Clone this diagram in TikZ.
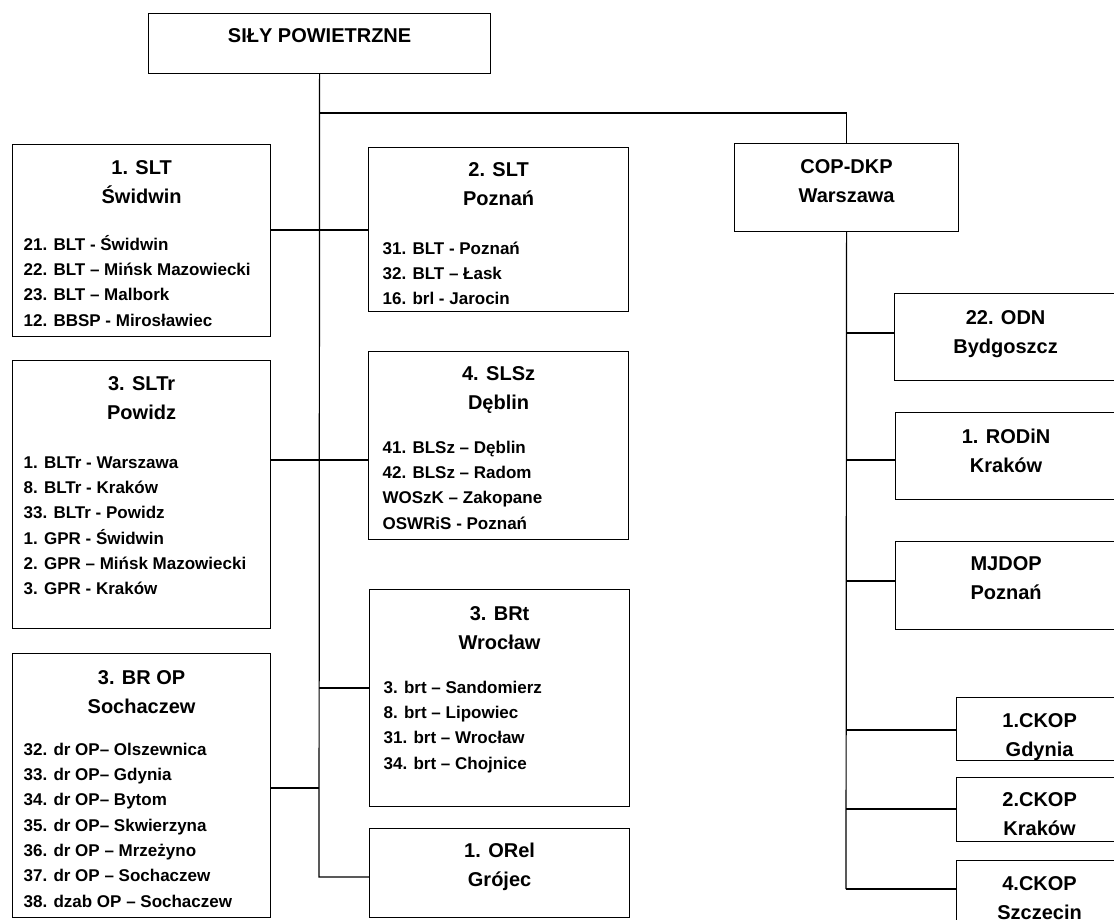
\documentclass[tikz,border=0pt]{standalone}
\usepackage{fontspec}
\setmainfont{Liberation Sans}
\usetikzlibrary{positioning}
\begin{document}
\begin{tikzpicture}[x=1pt, y=-1pt, line width=1.2pt,
    box/.style={draw, anchor=north west, inner sep=0pt},
    ttl/.style={inner sep=0pt, align=center, font=\fontsize{20}{29}\selectfont\bfseries},
    lst/.style={anchor=north west, inner sep=0pt, align=left, font=\fontsize{17}{25.3}\selectfont\bfseries}]
\path[use as bounding box] (0,0) rectangle (1114,920);
\clip (0,0) rectangle (1114,920);

\node[box, minimum width=342, minimum height=60] (sp) at (148,13) {};
\node[ttl, below=9pt of sp.north] (spt) {\strut SIŁY POWIETRZNE};

\node[box, minimum width=258, minimum height=192] (slt1) at (12,144) {};
\node[ttl, below=10pt of slt1.north] (slt1t) {\strut 1. SLT\\Świdwin};
\node[lst] (slt1l) at (23,232) {\strut 21. BLT - Świdwin\\22. BLT – Mińsk Mazowiecki\\23. BLT – Malbork\\12. BBSP - Mirosławiec};

\node[box, minimum width=258, minimum height=268] (sltr3) at (12,360) {};
\node[ttl, below=10pt of sltr3.north] (sltr3t) {\strut 3. SLTr\\Powidz};
\node[lst] (sltr3l) at (23,450) {\strut 1. BLTr - Warszawa\\8. BLTr - Kraków\\33. BLTr - Powidz\\1. GPR - Świdwin\\2. GPR – Mińsk Mazowiecki\\3. GPR - Kraków};

\node[box, minimum width=258, minimum height=264] (brop3) at (12,653) {};
\node[ttl, below=11pt of brop3.north] (brop3t) {\strut 3. BR OP\\Sochaczew};
\node[lst] (brop3l) at (23,737) {\strut 32. dr OP– Olszewnica\\33. dr OP– Gdynia\\34. dr OP– Bytom\\35. dr OP– Skwierzyna\\36. dr OP – Mrzeżyno\\37. dr OP – Sochaczew\\38. dzab OP – Sochaczew};

\node[box, minimum width=260, minimum height=164] (slt2) at (368,147) {};
\node[ttl, below=9pt of slt2.north] (slt2t) {\strut 2. SLT\\Poznań};
\node[lst] (slt2l) at (382,236) {\strut 31. BLT - Poznań\\32. BLT – Łask\\16. brl - Jarocin};

\node[box, minimum width=260, minimum height=188] (slsz4) at (368,351) {};
\node[ttl, below=9pt of slsz4.north] (slsz4t) {\strut 4. SLSz\\Dęblin};
\node[lst] (slsz4l) at (382,435) {\strut 41. BLSz – Dęblin\\42. BLSz – Radom\\WOSzK – Zakopane\\OSWRiS - Poznań};

\node[box, minimum width=260, minimum height=217] (brt3) at (369,589) {};
\node[ttl, below=11pt of brt3.north] (brt3t) {\strut 3. BRt\\Wrocław};
\node[lst] (brt3l) at (383,675) {\strut 3. brt – Sandomierz\\8. brt – Lipowiec\\31. brt – Wrocław\\34. brt – Chojnice};

\node[box, minimum width=260, minimum height=89] (orel1) at (369,828) {};
\node[ttl, below=9pt of orel1.north] (orel1t) {\strut 1. ORel\\Grójec};

\node[box, minimum width=224, minimum height=88] (copdkp) at (734,143) {};
\node[ttl, below=10pt of copdkp.north] (copdkpt) {\strut COP-DKP\\Warszawa};

\node[box, minimum width=222, minimum height=87] (odn22) at (894,293) {};
\node[ttl, below=11pt of odn22.north] (odn22t) {\strut 22. ODN\\Bydgoszcz};
\node[box, minimum width=221, minimum height=87] (rodin1) at (895,412) {};
\node[ttl, below=11pt of rodin1.north] (rodin1t) {\strut 1. RODiN\\Kraków};
\node[box, minimum width=221, minimum height=88] (mjdop) at (895,541) {};
\node[ttl, below=9pt of mjdop.north] (mjdopt) {\strut MJDOP\\Poznań};
\node[box, minimum width=166, minimum height=63] (ckop1) at (956,697) {};
\node[ttl, below=10pt of ckop1.north] (ckop1t) {\strut 1.CKOP\\Gdynia};
\node[box, minimum width=166, minimum height=64] (ckop2) at (956,777) {};
\node[ttl, below=9pt of ckop2.north] (ckop2t) {\strut 2.CKOP\\Kraków};
\node[box, minimum width=166, minimum height=80] (ckop4) at (956,860) {};
\node[ttl, below=10pt of ckop4.north] (ckop4t) {\strut 4.CKOP\\Szczecin};

\coordinate (t0) at (319,113);
\coordinate (t1) at (319,230);
\coordinate (t2) at (319,460);
\coordinate (t3) at (319,688);
\coordinate (t4) at (319,788);
\coordinate (tend) at (319,877);
\coordinate (rend) at (846,889);

\draw (sp.south) -- (tend) -- (orel1.west |- tend);
\draw (t0) -| (copdkp.north);
\draw (slt1.east |- t1) -- (slt2.west |- t1);
\draw (sltr3.east |- t2) -- (slsz4.west |- t2);
\draw (t3) -- (brt3.west |- t3);
\draw (brop3.east |- t4) -- (t4);
\draw (copdkp.south) -- (rend);
\foreach \n/\y in {odn22/333, rodin1/460, mjdop/581, ckop1/730, ckop2/809, ckop4/889}
    \draw (846,\y) -- (\n.west |- 0,\y);
\end{tikzpicture}
\end{document}
